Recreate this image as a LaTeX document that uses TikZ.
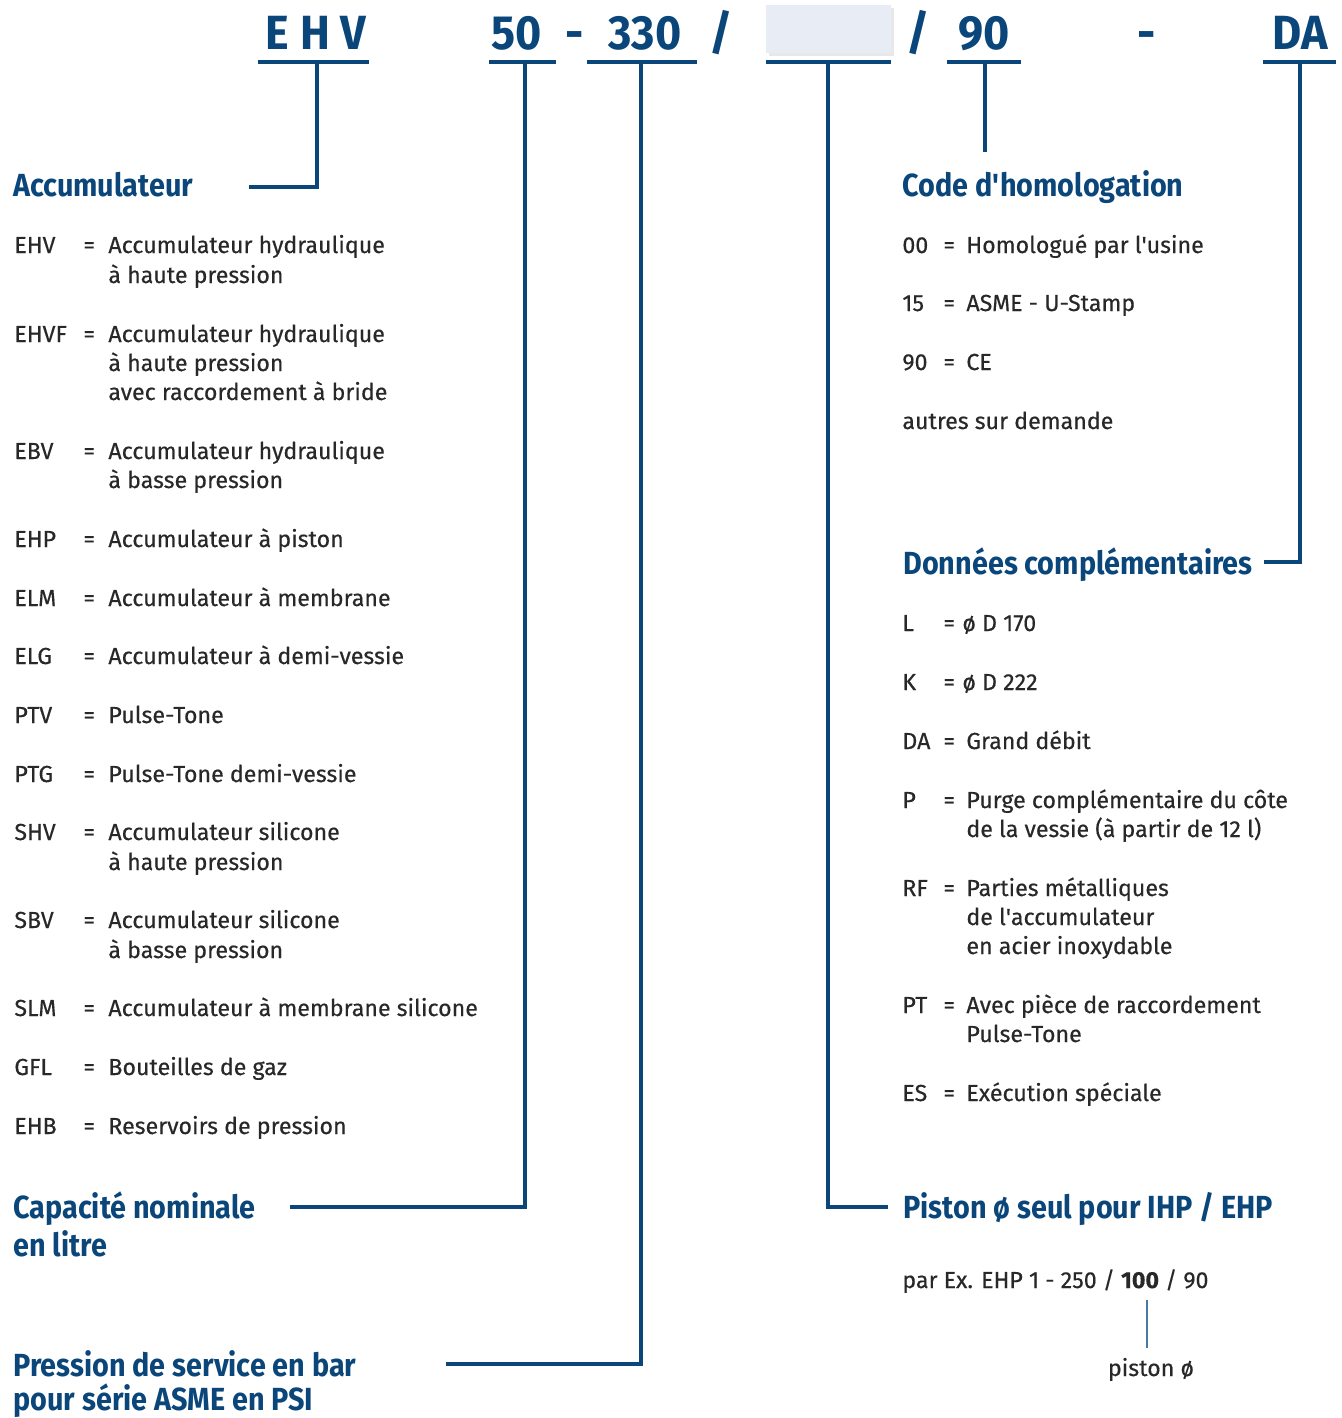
\documentclass[tikz,border=0pt]{standalone}
\usepackage{fontspec}
\setmainfont{Fira Sans}[FakeBold=0.4]
\newfontfamily\headfont{Fira Sans}[FakeStretch=0.9]
\newfontfamily\codefont{Fira Sans}[FakeStretch=0.935]
\usetikzlibrary{shadows}
\definecolor{navy}{RGB}{10,70,122}
\definecolor{txt}{RGB}{40,40,40}
\definecolor{boxc}{RGB}{232,236,244}
\definecolor{thinb}{RGB}{74,120,165}
\begin{document}
\begin{tikzpicture}[x=0.5pt,y=-0.5pt,
 conn/.style={draw=navy,line width=2pt},
 body/.style={anchor=base west,inner sep=0,text=txt,font=\fontsize{11.6}{14}\selectfont},
 head/.style={anchor=base west,inner sep=0,text=navy,font=\headfont\bfseries\fontsize{16}{19}\selectfont},
 code/.style={anchor=base,inner sep=0,text=navy,font=\codefont\bfseries\fontsize{24}{28}\selectfont}]
\useasboundingbox (0,0) rectangle (1341,1418);

% ---- top code line ----
\node[fill=boxc,inner sep=0,minimum width=62.5pt,minimum height=24pt,
  drop shadow={opacity=0.18,shadow xshift=1.5pt,shadow yshift=-1.5pt}] (blank) at (828.5,29) {};
\node[code] (tEHV) at (316,50) {E H V};
\node[code] (t50) at (517,50) {50};
\node[code] (d1) at (575,50) {-};
\node[code] (t330) at (645,50) {330};
\node[code] (s1) at (721,50) {/};
\node[code] (s2) at (918,50) {/};
\node[code] (t90) at (984,50) {90};
\node[code] (d2) at (1147,50) {-};
\node[code] (tDA) at (1300,50) {DA};

\draw[conn] (258,62) -- (369,62);
\draw[conn] (489,62) -- (556,62);
\draw[conn] (587,62) -- (697,62);
\draw[conn] (766,62) -- (891,62);
\draw[conn] (947,62) -- (1021,62);
\draw[conn] (1263,62) -- (1336,62);

\coordinate (uEHV) at (317,62);
\coordinate (u50) at (525,62);
\coordinate (u330) at (641,62);
\coordinate (ublank) at (828,62);
\coordinate (u90) at (985,62);
\coordinate (uDA) at (1300,62);

% ---- headings ----
\node[head] (hAcc) at (13,196) {Accumulateur};
\node[head] (hCode) at (902,196) {Code d\textquotesingle homologation};
\node[head] (hDon) at (903,574) {Données complémentaires};
\node[head] (hCap) at (13,1218) {Capacité nominale};
\node[head] (hCap2) at (13,1256) {en litre};
\node[head] (hPre) at (13,1376) {Pression de service en bar};
\node[head] (hPre2) at (13,1410) {pour série ASME en PSI};
\node[head] (hPis) at (903,1218) {Piston ø seul pour IHP / EHP};

\coordinate (eAcc) at (249,187);
\coordinate (e90) at (985,152);
\coordinate (eDon) at (1264,562);
\coordinate (eCap) at (290,1207);
\coordinate (ePre) at (446,1364);
\coordinate (ePis) at (888,1207);

\draw[conn] (uEHV) |- (eAcc);
\draw[conn] (u50) |- (eCap);
\draw[conn] (u330) |- (ePre);
\draw[conn] (ublank) |- (ePis);
\draw[conn] (u90) -- (e90);
\draw[conn] (uDA) |- (eDon);

% ---- left list ----
\foreach \c/\y [count=\i] in {EHV/253,EHVF/342,EBV/459,EHP/547,ELM/606,ELG/664,PTV/723,PTG/782,SHV/840,SBV/928,SLM/1016,GFL/1075,EHB/1134}{
  \node[body] (lc\i) at (14,\y) {\c};
  \node[body] (le\i) at (83,\y) {=};
}
\node[body] (l1a) at (108,253) {Accumulateur hydraulique};
\node[body] (l1b) at (108,283) {à haute pression};
\node[body] (l2a) at (108,342) {Accumulateur hydraulique};
\node[body] (l2b) at (108,371) {à haute pression};
\node[body] (l2c) at (108,400) {avec raccordement à bride};
\node[body] (l3a) at (108,459) {Accumulateur hydraulique};
\node[body] (l3b) at (108,488) {à basse pression};
\node[body] (l4) at (108,547) {Accumulateur à piston};
\node[body] (l5) at (108,606) {Accumulateur à membrane};
\node[body] (l6) at (108,664) {Accumulateur à demi-vessie};
\node[body] (l7) at (108,723) {Pulse-Tone};
\node[body] (l8) at (108,782) {Pulse-Tone demi-vessie};
\node[body] (l9a) at (108,840) {Accumulateur silicone};
\node[body] (l9b) at (108,870) {à haute pression};
\node[body] (l10a) at (108,928) {Accumulateur silicone};
\node[body] (l10b) at (108,958) {à basse pression};
\node[body] (l11) at (108,1016) {Accumulateur à membrane silicone};
\node[body] (l12) at (108,1075) {Bouteilles de gaz};
\node[body] (l13) at (108,1134) {Reservoirs de pression};

% ---- right list: homologation ----
\foreach \c/\y [count=\i] in {00/253,15/311,90/370}{
  \node[body] (rc\i) at (902,\y) {\c};
  \node[body] (re\i) at (943,\y) {=};
}
\node[body] (r1) at (966,253) {Homologué par l\textquotesingle usine};
\node[body] (r2) at (966,311) {ASME - U-Stamp};
\node[body] (r3) at (966,370) {CE};
\node[body] (r4) at (902,429) {autres sur demande};

% ---- right list: données ----
\foreach \c/\y [count=\i] in {L/631,K/690,DA/749,P/808,RF/896,PT/1013,ES/1101}{
  \node[body] (dc\i) at (902,\y) {\c};
  \node[body] (de\i) at (943,\y) {=};
}
\node[body] (d1t) at (962,631) {ø D 170};
\node[body] (d2t) at (962,690) {ø D 222};
\node[body] (d3t) at (966,749) {Grand débit};
\node[body] (d4a) at (966,808) {Purge complémentaire du côte};
\node[body] (d4b) at (966,837) {de la vessie (à partir de 12 l)};
\node[body] (d5a) at (966,896) {Parties métalliques};
\node[body] (d5b) at (966,925) {de l\textquotesingle accumulateur};
\node[body] (d5c) at (966,954) {en acier inoxydable};
\node[body] (d6a) at (966,1013) {Avec pièce de raccordement};
\node[body] (d6b) at (966,1042) {Pulse-Tone};
\node[body] (d7t) at (966,1101) {Exécution spéciale};

% ---- piston example ----
\node[body] (ex) at (902,1288) {par Ex. EHP 1 - 250 / \textbf{100} / 90};
\node[body,anchor=base] (pis) at (1151,1376) {piston ø};
\coordinate (exa) at (1147,1300);
\coordinate (exb) at (1147,1348);
\draw[draw=thinb,line width=1pt] (exa) -- (exb);
\end{tikzpicture}
\end{document}
